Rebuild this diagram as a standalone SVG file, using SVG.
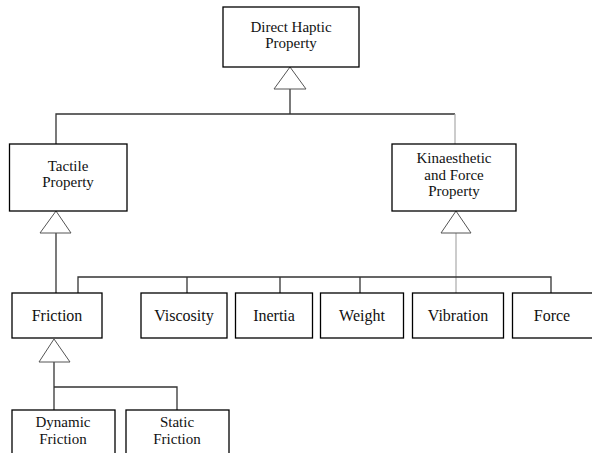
<svg xmlns="http://www.w3.org/2000/svg" width="592" height="453" viewBox="0 0 592 453">
  <style>
    .box { fill: #fff; stroke: #000; stroke-width: 1.3; }
    .lbl { font-family: "Liberation Serif", "Times New Roman", serif; font-size: 16px; fill: #111; text-anchor: middle; }
    .ml { font-size: 15px; }
    .ln { fill: none; stroke: #333; stroke-width: 1.3; }
    .lt { fill: none; stroke: #aaa; stroke-width: 1.2; }
    .tri { fill: #fff; stroke: #555; stroke-width: 1; }
  </style>
  <rect width="592" height="453" fill="#fff"/>

  <!-- connectors -->
  <g id="connectors">
    <!-- root generalization -->
    <polyline class="ln" points="290,89 290,114"/>
    <polyline class="ln" points="56,144 56,114 455,114"/>
    <polyline class="lt" points="455,114 455,144"/>
    <polygon class="tri" points="290,67 274,89 306,89"/>
    <!-- tactile generalization -->
    <polyline class="ln" points="56,233 56,293"/>
    <polygon class="tri" points="56,211 40,233 71,233"/>
    <!-- kinaesthetic generalization -->
    <polyline class="lt" points="456,233 456,293"/>
    <polyline class="ln" points="78,293 78,277 551,277 551,293"/>
    <polyline class="ln" points="187,277 187,293"/>
    <polyline class="ln" points="280,277 280,293"/>
    <polyline class="ln" points="360,277 360,293"/>
    <polygon class="tri" points="456,211 441,233 471,233"/>
    <!-- friction generalization -->
    <polyline class="ln" points="54,410 54,362"/>
    <polyline class="ln" points="54,387 177,387 177,410"/>
    <polygon class="tri" points="54,339 39,362 70,362"/>
  </g>

  <g id="direct-haptic">
    <rect class="box" x="223" y="7" width="136" height="60"/>
    <text class="lbl ml" x="291" y="31.7">Direct Haptic</text>
    <text class="lbl ml" x="291" y="48.3">Property</text>
  </g>

  <g id="tactile">
    <rect class="box" x="9.5" y="144" width="117.5" height="67"/>
    <text class="lbl ml" x="68" y="170.6">Tactile</text>
    <text class="lbl ml" x="68" y="187.2">Property</text>
  </g>

  <g id="kinaesthetic">
    <rect class="box" x="392" y="144" width="124" height="67"/>
    <text class="lbl ml" x="454" y="163.1">Kinaesthetic</text>
    <text class="lbl ml" x="454" y="179.7">and Force</text>
    <text class="lbl ml" x="454" y="196.3">Property</text>
  </g>

  <g id="friction">
    <rect class="box" x="12" y="293" width="90" height="45"/>
    <text class="lbl" x="57" y="321">Friction</text>
  </g>

  <g id="viscosity">
    <rect class="box" x="141" y="293" width="86" height="45"/>
    <text class="lbl" x="184" y="321">Viscosity</text>
  </g>

  <g id="inertia">
    <rect class="box" x="235.5" y="293" width="77" height="45"/>
    <text class="lbl" x="274" y="321">Inertia</text>
  </g>

  <g id="weight">
    <rect class="box" x="320.5" y="293" width="83" height="45"/>
    <text class="lbl" x="362" y="321">Weight</text>
  </g>

  <g id="vibration">
    <rect class="box" x="412.5" y="293" width="91" height="45"/>
    <text class="lbl" x="458" y="321">Vibration</text>
  </g>

  <g id="force">
    <rect class="box" x="512.5" y="293" width="84" height="45"/>
    <text class="lbl" x="552" y="321">Force</text>
  </g>

  <g id="dynamic-friction">
    <rect class="box" x="12" y="410" width="103" height="50"/>
    <text class="lbl ml" x="63" y="427.2">Dynamic</text>
    <text class="lbl ml" x="63" y="443.8">Friction</text>
  </g>

  <g id="static-friction">
    <rect class="box" x="126" y="410" width="103" height="50"/>
    <text class="lbl ml" x="177" y="427.2">Static</text>
    <text class="lbl ml" x="177" y="443.8">Friction</text>
  </g>
</svg>
